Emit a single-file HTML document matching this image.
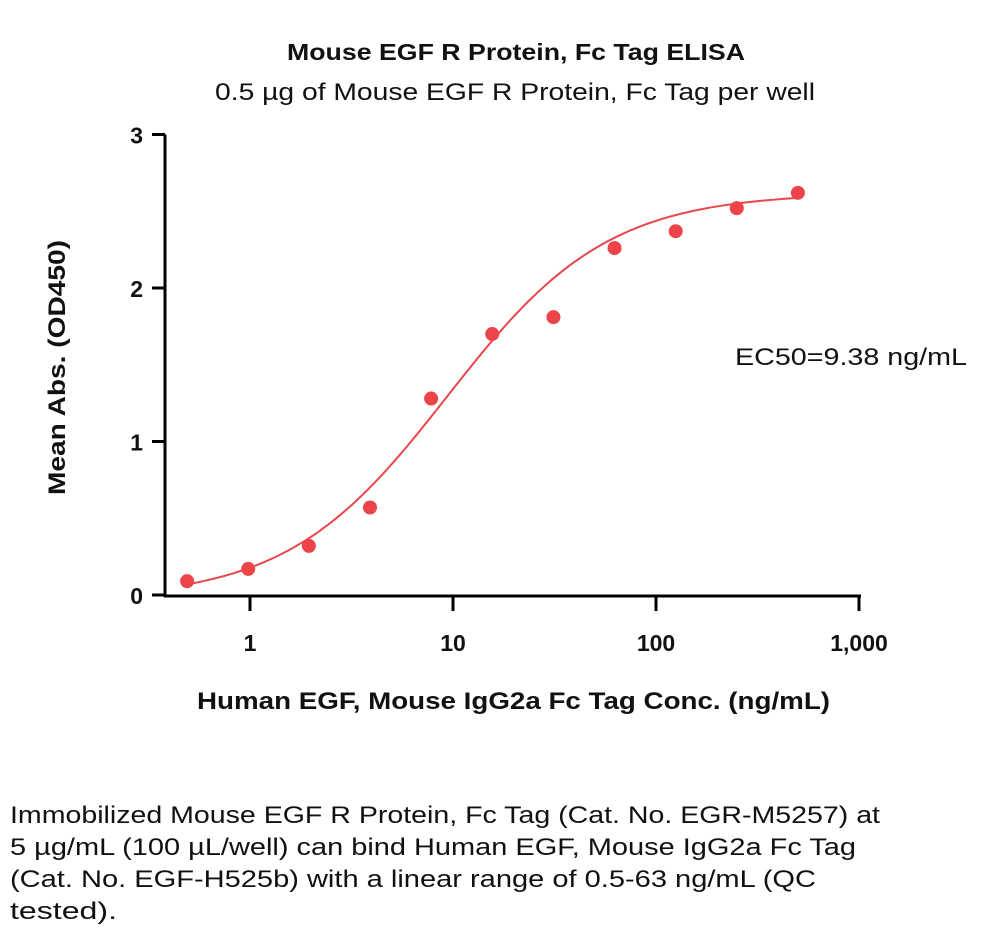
<!DOCTYPE html>
<html><head><meta charset="utf-8"><style>
body{margin:0;background:#fff;width:1000px;height:939px;overflow:hidden;font-family:"Liberation Sans",sans-serif}
</style></head><body>
<svg id="chart" width="1000" height="939" style="position:absolute;left:0;top:0" font-family="Liberation Sans, sans-serif" fill="#111">
<text x="287" y="60" font-size="23" font-weight="bold" textLength="458" lengthAdjust="spacingAndGlyphs">Mouse EGF R Protein, Fc Tag ELISA</text>
<text x="215" y="100" font-size="24" textLength="600" lengthAdjust="spacingAndGlyphs">0.5 µg of Mouse EGF R Protein, Fc Tag per well</text>
<text transform="translate(65,495) rotate(-90)" font-size="24" font-weight="bold" textLength="255" lengthAdjust="spacingAndGlyphs">Mean Abs. (OD450)</text>
<text x="197" y="709" font-size="24" font-weight="bold" textLength="633" lengthAdjust="spacingAndGlyphs">Human EGF, Mouse IgG2a Fc Tag Conc. (ng/mL)</text>
<text x="735" y="365" font-size="24" textLength="232" lengthAdjust="spacingAndGlyphs">EC50=9.38 ng/mL</text>
<g id="axes"></g><path id="curve" fill="none" stroke="#e8474c" stroke-width="2"/><g id="pts"></g>
<g font-size="24">
<text x="10" y="823" textLength="870" lengthAdjust="spacingAndGlyphs">Immobilized Mouse EGF R Protein, Fc Tag (Cat. No. EGR-M5257) at</text>
<text x="10" y="855" textLength="846" lengthAdjust="spacingAndGlyphs">5 µg/mL (100 µL/well) can bind Human EGF, Mouse IgG2a Fc Tag</text>
<text x="10" y="887" textLength="806" lengthAdjust="spacingAndGlyphs">(Cat. No. EGF-H525b) with a linear range of 0.5-63 ng/mL (QC</text>
<text x="10" y="919" textLength="107" lengthAdjust="spacingAndGlyphs">tested).</text>
</g>
</svg>
<script>
const concs=[0.49,0.98,1.95,3.9,7.8,15.6,31.25,62.5,125,250,500];
const absVals=[0.09,0.17,0.32,0.57,1.28,1.70,1.81,2.26,2.37,2.52,2.62];
const yTicks=[0,1,2,3];
const xTicks=[1,10,100,1000];
const xTickLabels=["1","10","100","1,000"];
const fit={bottom:-0.03,top:2.62,ec50:9.38,hill:1.1};
const NS="http://www.w3.org/2000/svg";
const X=v=>250+203*Math.log10(v), Y=v=>595-153.5*v;
const ax=document.getElementById('axes');
function mk(t,a,p){const e=document.createElementNS(NS,t);for(const k in a)e.setAttribute(k,a[k]);(p||ax).appendChild(e);return e;}
const ya=mk('line',{x1:165,y1:Y(3),x2:165,y2:597,stroke:'#000','stroke-width':3});


const xa=mk('line',{x1:164,y1:596,x2:861,y2:596,stroke:'#000','stroke-width':3});


yTicks.forEach(v=>{mk('line',{x1:152,x2:165,y1:Y(v),y2:Y(v),stroke:'#000','stroke-width':3});
const t=mk('text',{x:143,y:Y(v)+9,'text-anchor':'end','font-size':23,'font-weight':'bold'});t.textContent=v;

});
xTicks.forEach((v,i)=>{mk('line',{x1:X(v),x2:X(v),y1:596,y2:611,stroke:'#000','stroke-width':3});
const t=mk('text',{x:X(v),y:651,'text-anchor':'middle','font-size':23,'font-weight':'bold'});t.textContent=xTickLabels[i];

});
const f=x=>fit.bottom+(fit.top-fit.bottom)/(1+Math.pow(fit.ec50/x,fit.hill));
let d='';for(let i=0;i<=200;i++){const lx=Math.log10(concs[0])+i*(Math.log10(concs[concs.length-1])-Math.log10(concs[0]))/200;const x=Math.pow(10,lx);d+=(i?'L':'M')+X(x).toFixed(1)+','+Y(f(x)).toFixed(1);}
document.getElementById('curve').setAttribute('d',d);
const pg=document.getElementById('pts');
concs.forEach((c,i)=>{const p=mk('circle',{cx:X(c),cy:Y(absVals[i]),r:7,fill:'#ec4448'},pg);

});
</script>
</body></html>
